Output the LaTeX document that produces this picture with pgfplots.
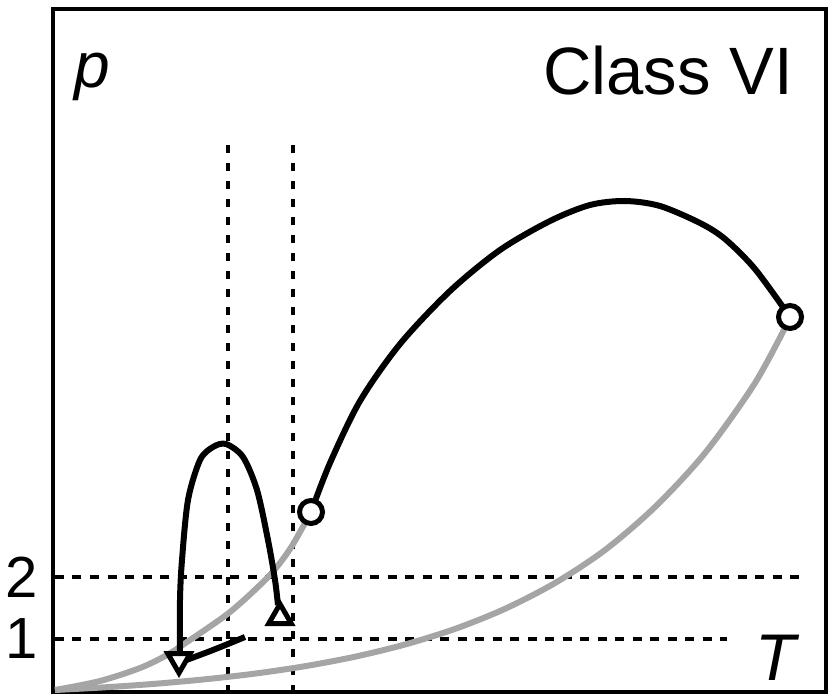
\documentclass[border=0pt]{standalone}
\usepackage{fontspec}
\setmainfont{Liberation Sans}
\usepackage{pgfplots}
\pgfplotsset{compat=1.18}
\definecolor{curvegray}{RGB}{165,165,165}
\begin{document}
\begin{tikzpicture}
\begin{axis}[
  x=1pt, y=1pt,
  xmin=53, xmax=826, ymin=2, ymax=685,
  axis line style={line width=4.5pt},
  xtick=\empty,
  ytick={55,117},
  yticklabels={\raisebox{-16pt}{1},2},
  major tick length=0pt,
  yticklabel style={font=\fontsize{58}{60}\selectfont, xshift=-12pt},
  clip=false,
]
% invisible extent of the picture
\path (axis cs:0,0) (axis cs:829,694);

% dashed guide lines
\addplot[black, line width=3.6pt, dash pattern=on 9pt off 8.5pt] coordinates {(55,117) (802,117)};
\addplot[black, line width=3.6pt, dash pattern=on 9pt off 8.5pt] coordinates {(55,55) (727,55)};
\addplot[black, line width=3.6pt, dash pattern=on 8pt off 10pt] coordinates {(228,549) (228,4)};
\addplot[black, line width=3.6pt, dash pattern=on 8pt off 10pt] coordinates {(293,549) (293,4)};

% gray curves
\addplot[curvegray, line width=6pt, smooth] coordinates {
 (55,4) (100,13) (140,26) (167,39) (187,52) (230,82) (268,117) (290,145) (311,182)};
\addplot[curvegray, line width=6pt, smooth] coordinates {
 (55,4) (105,6.7) (155,10.2) (205,14.7) (255,20.4) (305,27.8) (355,37.3) (405,49.5)
 (455,65.1) (505,85.2) (555,111) (605,144) (655,187) (705,241) (755,311) (790,376)};

% black big curve
\addplot[black, line width=6pt, smooth] coordinates {
 (311,182) (330,231) (360,293) (400,350) (450,403) (500,444) (550,473) (590,489)
 (625,493) (660,488) (700,471) (725,455) (755,425) (790,377)};

% black loop
\addplot[black, line width=6pt, smooth] coordinates {
 (180,34) (180,94) (182,134) (188,194) (200,234) (213,247) (226,250) (243,237)
 (257,204) (268,154) (275,114) (278,89)};

% short black segment
\addplot[black, line width=6pt, smooth] coordinates {(181,32) (213,44) (245,57)};

% circle marks
\addplot[only marks, mark=*, mark size=11.5pt, mark options={fill=white, draw=black, line width=5pt}]
 coordinates {(311,182) (790,377)};
% triangles
\addplot[only marks, mark=triangle*, mark size=13pt, mark options={fill=white, draw=black, line width=5pt, rotate=180}]
 coordinates {(179,34)};
\addplot[only marks, mark=triangle*, mark size=13pt, mark options={fill=white, draw=black, line width=5pt}]
 coordinates {(280,77)};

% texts
\node[anchor=base east, inner sep=0pt, font=\fontsize{67}{70}\selectfont] at (axis cs:793,599) {Class VI};
\node[anchor=base west, inner sep=0pt, font=\fontsize{64}{66}\selectfont\itshape] at (axis cs:74,606) {p};
\node[anchor=base west, inner sep=0pt, font=\fontsize{66}{70}\selectfont\itshape] at (axis cs:755,14) {T};
\end{axis}
\end{tikzpicture}
\end{document}
